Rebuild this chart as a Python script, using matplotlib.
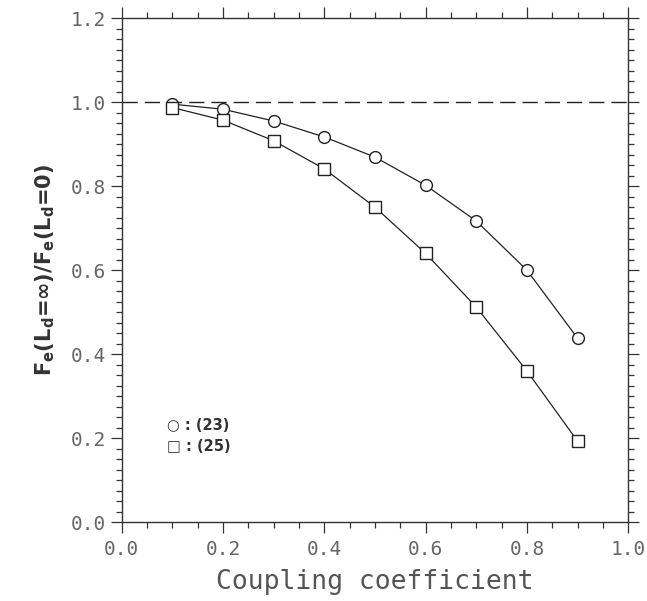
import numpy as np
import matplotlib.pyplot as plt
from matplotlib.ticker import MultipleLocator

# coupling coefficient
k = [0.1, 0.2, 0.3, 0.4, 0.5, 0.6, 0.7, 0.8, 0.9]
# ratio Fe(Ld=inf)/Fe(Ld=0)
eq23 = [0.995, 0.983, 0.955, 0.917, 0.869, 0.802, 0.717, 0.600, 0.438]
eq25 = [0.987, 0.957, 0.908, 0.841, 0.750, 0.640, 0.512, 0.360, 0.193]

plt.rcParams['mathtext.default'] = 'regular'

fig = plt.figure(figsize=(6.47, 6.01), dpi=100)
ax = fig.add_axes([0.188, 0.131, 0.783, 0.839])

ax.axhline(1.0, color='#222222', lw=1.0, dashes=(11, 5))
ax.plot(k, eq23, color='#222222', lw=0.9, marker='o', ms=8.5,
        mfc='white', mec='#222222', mew=1.0)
ax.plot(k, eq25, color='#222222', lw=0.9, marker='s', ms=8,
        mfc='white', mec='#222222', mew=1.0)

ax.set_xlim(0, 1.0)
ax.set_ylim(0, 1.2)
ax.xaxis.set_major_locator(MultipleLocator(0.2))
ax.xaxis.set_minor_locator(MultipleLocator(0.05))
ax.yaxis.set_major_locator(MultipleLocator(0.2))
ax.yaxis.set_minor_locator(MultipleLocator(0.025))
ax.set_xticklabels(['%.1f' % v for v in ax.get_xticks()])
ax.set_yticklabels(['%.1f' % v for v in ax.get_yticks()])
for lab in ax.get_xticklabels() + ax.get_yticklabels():
    lab.set_family('DejaVu Sans Mono')

ax.tick_params(which='both', direction='out', top=True, right=True,
               color='#333333', width=0.9, labelsize=14, labelcolor='#666666')
ax.tick_params(which='major', length=8)
ax.tick_params(which='minor', length=4)
ax.tick_params(axis='x', pad=5)
for s in ax.spines.values():
    s.set_color('#333333')
    s.set_linewidth(1.0)

ax.set_xlabel('Coupling coefficient', fontsize=19, color='#555555',
              family='DejaVu Sans Mono', labelpad=7)
ax.set_ylabel(r'F$_{e}$(L$_{d}$=$\infty$)/F$_{e}$(L$_{d}$=0)', fontsize=15,
              fontweight='bold', color='#333333', labelpad=10)

ax.text(0.09, 0.192, '\u25cb : (23)', transform=ax.transAxes, fontsize=10.5,
        fontweight='bold', color='#333333', va='center')
ax.text(0.09, 0.151, '\u25a1 : (25)', transform=ax.transAxes, fontsize=10.5,
        fontweight='bold', color='#333333', va='center')

fig.savefig('out.png', dpi=100)
